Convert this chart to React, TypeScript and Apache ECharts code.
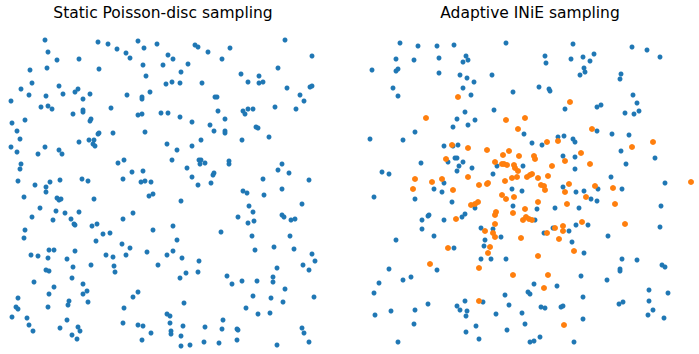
import React, { useEffect, useRef } from "react";
import * as echarts from "echarts";

const leftTitle = "Static Poisson-disc sampling";
const rightTitle = "Adaptive INiE sampling";

const leftPoints: number[][] = [
  [37,305],[40,293],[49,285],[71,286],[90,303],[100,301],[109,296],[118,292],[122,287],[130,304],[136,297],[149,301],[160,290],[165,286],[155,280],[135,280],[138,269],[91,276],[39,277],[22,275],[24,262],[13,256],[21,250],[3,244],[51,259],[55,251],[38,249],[33,238],[40,239],[44,236],[67,253],[70,256],[82,251],[75,246],[103,237],[119,250],[134,248],[134,246],[142,253],[158,261],[164,263],[65,231],[75,233],[75,235],[82,224],[83,226],[4,222],[17,225],[9,214],[12,206],[3,198],[9,193],[37,198],[30,191],[51,195],[54,191],[71,203],[81,205],[86,205],[85,201],[87,199],[90,211],[91,212],[105,212],[130,230],[134,231],[153,232],[160,232],[137,213],[159,201],[164,185],[110,182],[116,185],[124,173],[135,174],[115,166],[133,163],[137,164],[143,163],[13,181],[12,176],[10,164],[27,160],[38,158],[42,163],[52,165],[74,166],[80,164],
  [38,153],[16,148],[49,147],[51,145],[53,146],[86,146],[141,149],[145,151],[32,137],[48,134],[57,132],[71,133],[24,128],[45,125],[63,126],[66,121],[67,120],[84,119],[89,121],[115,126],[125,132],[17,115],[16,107],[145,115],[165,119],[95,111],[102,112],[88,104],[114,101],[122,97],[41,95],[46,95],[67,94],[23,90],[30,89],[40,87],[59,86],[98,90],[105,88],[118,90],[139,93],[159,90],[165,94],[65,78],[83,80],[106,79],[107,73],[38,75],[41,74],[150,80],[26,63],[64,67],[75,61],[46,58],[41,51],[75,51],[79,54],[10,47],[61,44],[60,40],[80,43],[40,38],[8,38],[10,36],[125,48],[130,53],[116,37],[4,28],[19,27],[21,20],[25,14],[59,25],[52,17],[70,18],[72,14],[64,10],[69,6],[115,22],[130,20],[135,19],[143,12],[134,5],[159,31],[162,29],[162,22],[163,14],[163,11],
  [187,300],[190,298],[200,293],[222,297],[214,286],[180,281],[173,273],[172,262],[194,262],[277,305],[304,289],[270,277],[233,271],[251,269],[240,263],[251,262],[255,263],[279,257],[302,258],[304,259],[292,250],[296,244],[207,248],[209,248],[210,234],[235,234],[240,236],[245,236],[237,231],[267,238],[288,236],[172,228],[184,223],[202,220],[217,226],[206,214],[217,214],[217,212],[248,218],[250,217],[261,208],[234,205],[193,205],[184,199],[169,195],[191,185],[193,185],[192,181],[197,182],[179,177],[184,168],[190,160],[203,162],[205,170],[206,172],[221,184],[221,181],[255,166],[270,175],[274,181],[281,172],[301,165],[274,156],
  [235,154],[239,152],[256,150],[173,144],[294,141],[241,139],[245,133],[230,128],[240,122],[246,124],[274,130],[276,128],[283,125],[287,126],[213,113],[244,109],[282,109],[169,105],[247,95],[266,98],[286,96],[304,91],[307,84],[174,87],[191,84],[295,80],[301,75],[269,77],[178,72],[190,73],[172,67],[219,69],[224,61],[234,64],[249,64],[265,68],[265,63],[277,56],[245,49],[263,47],[275,43],[306,48],[176,42],[238,37],[250,31],[262,32],[215,25],[175,19],[197,18],[214,16],[229,16],[230,15],[294,17],[296,12],[301,3],[173,9],[196,3],[211,2],[229,5],[173,-1],[182,0],[269,0]
];

const rightBlue: number[][] = [
  [33,302],[51,299],[70,299],[87,300],[139,302],[29,286],[47,285],[72,287],[99,289],[101,285],[96,283],[5,275],[29,274],[31,276],[72,272],[93,270],[100,267],[107,263],[125,270],[26,257],[31,249],[96,257],[104,250],[146,253],[98,233],[127,235],[90,226],[108,225],[86,218],[101,220],[48,213],[36,205],[3,206],[157,211],[77,199],[86,199],[91,200],[88,187],[90,187],[81,183],[96,183],[92,179],[105,177],[90,174],[54,182],[15,173],[22,171],[130,179],[156,179],[126,171],[77,162],[67,156],[145,156],
  [206,301],[265,298],[280,295],[293,288],[178,289],[179,282],[204,286],[216,288],[227,291],[223,284],[217,277],[218,273],[213,270],[254,271],[253,266],[172,258],[182,256],[183,254],[266,250],[270,242],[272,234],[267,231],[258,232],[198,236],[230,238],[234,240],[230,214],[245,211],[262,210],[191,208],[197,209],[206,206],[208,203],[165,202],[175,200],[196,189],[208,188],[254,194],[288,187],[259,181],[208,176],[244,168],[298,162],[196,158],[231,156],[255,156],
  [7,148],[48,146],[75,153],[85,143],[155,154],[146,139],[108,137],[98,131],[95,128],[61,129],[62,130],[55,125],[77,125],[55,116],[67,109],[29,105],[114,117],[126,116],[118,105],[117,99],[134,108],[87,97],[114,86],[124,86],[139,86],[22,76],[70,75],[44,68],[36,65],[12,62],[7,52],[61,41],[98,44],[116,43],[138,50],[142,40],[161,53],[163,51],[90,39],[93,35],[100,34],[99,29],[48,35],[24,34],[8,30],[47,21],[129,31],[155,32],[158,21],[109,19],[140,15],[99,13],[112,6],[31,3],[163,3],[167,4],
  [209,153],[217,154],[224,146],[230,144],[170,136],[188,137],[212,137],[294,139],[293,118],[168,125],[186,117],[209,120],[221,120],[202,114],[177,112],[205,103],[241,109],[217,92],[255,86],[270,85],[295,80],[298,78],[253,76],[253,74],[214,69],[240,65],[167,61],[190,59],[216,48],[282,55],[301,52],[282,44],[252,41],[256,43],[174,38],[178,37],[194,38],[196,39],[286,35],[281,30],[297,27],[216,26],[173,8],[207,3]
];

const rightOrange: number[][] = [
  [91,248],[59,227],[139,225],[158,227],[151,216],[85,200],[101,197],[120,195],[142,194],[136,190],[152,189],[79,186],[128,183],[135,181],[137,181],[140,180],[147,180],[148,177],[151,174],[101,168],[145,167],[150,168],[160,168],[138,164],[48,166],[75,166],[65,163],[120,161],[121,162],[112,160],[46,156],[86,155],
  [203,243],[225,216],[180,203],[191,204],[286,203],[265,198],[214,192],[167,189],[168,186],[198,184],[185,179],[223,181],[165,171],[163,170],[171,167],[181,169],[174,160],[177,159],[178,155],[202,161],[228,159],[246,157],[324,163],
  [135,150],[139,146],[147,148],[104,140],[108,141],[111,143],[146,132],[158,136],[129,133],[128,130],[156,125],[159,128],[162,126],[165,125],[89,126],[128,121],[118,114],[126,112],[128,108],[154,107],[123,98],[121,92],[81,97],[63,81],[112,77],[146,70],[112,44],
  [198,153],[219,148],[171,143],[200,141],[248,141],[258,121],[215,123],[196,119],[188,117],[196,114],[180,112],[192,106],[207,94],[171,89],[181,70],[177,57],[197,20]
];

const BLUE = "#1f77b4";
const ORANGE = "#ff7f0e";

export default function App() {
  const ref = useRef<HTMLDivElement>(null);
  useEffect(() => {
    if (!ref.current) return;
    const chart = echarts.init(ref.current, null, { renderer: "svg" });
    const xAx = (i: number) => ({ type: "value", gridIndex: i, min: 0, max: 330, show: false });
    const yAx = (i: number) => ({ type: "value", gridIndex: i, min: -3, max: 310, show: false });
    chart.setOption({
      animation: false,
      backgroundColor: "#ffffff",
      grid: [
        { left: 8, top: 35, width: 330, height: 313 },
        { left: 367, top: 35, width: 330, height: 313 },
      ],
      xAxis: [xAx(0), xAx(1)],
      yAxis: [yAx(0), yAx(1)],
      graphic: [
        {
          type: "text",
          x: 163,
          y: 12.5,
          style: {
            text: leftTitle,
            fontFamily: "DejaVu Sans",
            fontSize: 15.5,
            fill: "#000",
            align: "center",
            verticalAlign: "middle",
          },
        },
        {
          type: "text",
          x: 530,
          y: 12.5,
          style: {
            text: rightTitle,
            fontFamily: "DejaVu Sans",
            fontSize: 15.5,
            fill: "#000",
            align: "center",
            verticalAlign: "middle",
          },
        },
      ],
      series: [
        {
          type: "scatter",
          xAxisIndex: 0,
          yAxisIndex: 0,
          data: leftPoints,
          symbolSize: 5,
          itemStyle: { color: BLUE, opacity: 1 },
          silent: true,
        },
        {
          type: "scatter",
          xAxisIndex: 1,
          yAxisIndex: 1,
          data: rightBlue,
          symbolSize: 5,
          itemStyle: { color: BLUE, opacity: 1 },
          silent: true,
        },
        {
          type: "scatter",
          xAxisIndex: 1,
          yAxisIndex: 1,
          data: rightOrange,
          symbolSize: 6,
          itemStyle: { color: ORANGE, opacity: 1 },
          silent: true,
        },
      ],
    });
    return () => chart.dispose();
  }, []);
  return (
    <div
      ref={ref}
      style={{ position: "fixed", left: 0, top: 0, width: 699, height: 354 }}
    />
  );
}
